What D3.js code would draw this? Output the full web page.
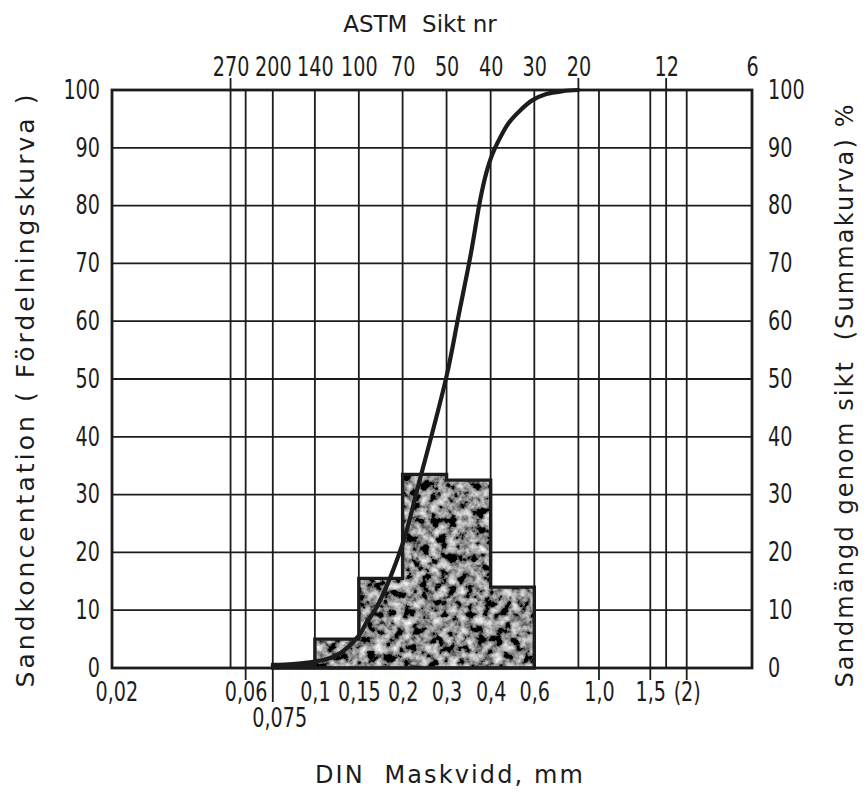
<!DOCTYPE html>
<html>
<head>
<meta charset="utf-8">
<script src="https://cdn.jsdelivr.net/npm/d3@7"></script>
<style>
  body { margin: 0; background: #fff; }
  svg text { fill: #1c1c1c; }
</style>
</head>
<body>
<svg id="chart"></svg>
<script>
// ASTM sieve numbers (top axis) and their openings in mm
const astmNumbers = ["270", "200", "140", "100", "70", "50", "40", "30", "20", "12", "6"];
const astmSizes = [0.053, 0.075, 0.106, 0.15, 0.212, 0.3, 0.425, 0.6, 0.85, 1.7, 3.35];

// DIN mesh widths (bottom axis)
const dinSizes = [0.02, 0.06, 0.075, 0.106, 0.15, 0.212, 0.3, 0.425, 0.6, 1.0, 1.5, 2.0];
const dinLabels = ["0,02", "0,06", "0,075", "0,1", "0,15", "0,2", "0,3", "0,4", "0,6", "1,0", "1,5", "(2)"];

const percentTicks = [0, 10, 20, 30, 40, 50, 60, 70, 80, 90, 100];

// Fördelningskurva: class limits (mm) and share of sand in each class (%)
const binEdges = [0.075, 0.106, 0.15, 0.212, 0.3, 0.425, 0.6];
const binShares = [0.6, 5, 15.5, 33.5, 32.5, 14];

// Summakurva: passing through sieve (%)
const cumSizes = [0.075, 0.106, 0.126, 0.15, 0.159, 0.173, 0.212, 0.24, 0.3, 0.33, 0.363, 0.388, 0.40, 0.414, 0.43, 0.45, 0.49, 0.54, 0.59, 0.66, 0.75, 0.85];
const cumPassing = [0.4, 1.1, 2.2, 5.6, 7.8, 10.6, 21.5, 31.6, 50.5, 61, 71.5, 80, 83.3, 86.3, 88.8, 91, 94.3, 96.6, 98.2, 99.3, 99.8, 100];

const width = 868, height = 796;
const margin = {top: 90, right: 116, bottom: 128, left: 112};
const pw = width - margin.left - margin.right;
const ph = height - margin.top - margin.bottom;

const numFont = "'DejaVu Sans Condensed', 'DejaVu Sans', sans-serif";
const textFont = "'DejaVu Sans', sans-serif";
const ink = "#1c1c1c";
const squeeze = 0.82; // the stencil digits are narrower than any installed font

const svg = d3.select("#chart").attr("width", width).attr("height", height);

// grainy grey fill for the histogram, like the printed screen
const defs = svg.append("defs");
const grain = defs.append("filter").attr("id", "grain")
    .attr("x", 0).attr("y", 0).attr("width", 1).attr("height", 1);
grain.append("feTurbulence").attr("type", "fractalNoise")
    .attr("baseFrequency", 0.11).attr("numOctaves", 4).attr("seed", 7).attr("result", "noise");
grain.append("feColorMatrix").attr("in", "noise").attr("type", "matrix")
    .attr("values", "1.9 0 0 0 -0.68  1.9 0 0 0 -0.68  1.9 0 0 0 -0.68  0 0 0 0 1")
    .attr("result", "grey");
grain.append("feComposite").attr("in", "grey").attr("in2", "SourceGraphic").attr("operator", "in");

const g = svg.append("g").attr("transform", `translate(${margin.left},${margin.top})`);

// hand drawn sheet: the part left of the 140 sieve is a bit narrower than a true log scale
const x = d3.scaleLog().domain([0.02, 0.106, 3.35]).range([0, pw * 0.317, pw]);
const y = d3.scaleLinear().domain([0, 100]).range([ph, 0]);

// grid
const vLines = Array.from(new Set(astmSizes.concat(dinSizes)))
    .filter(d => d > 0.02 && d < 3.35);
g.append("g").selectAll("line").data(vLines).join("line")
    .attr("x1", d => x(d)).attr("x2", d => x(d))
    .attr("y1", 0).attr("y2", ph)
    .attr("stroke", ink).attr("stroke-width", 1.8);
g.append("g").selectAll("line").data(percentTicks).join("line")
    .attr("x1", 0).attr("x2", pw)
    .attr("y1", d => y(d)).attr("y2", d => y(d))
    .attr("stroke", ink).attr("stroke-width", 1.8);

// histogram
const bins = binShares.map((v, i) => ({x0: binEdges[i], v: v}));
bins.push({x0: binEdges[binEdges.length - 1], v: binShares[binShares.length - 1]});
const area = d3.area().curve(d3.curveStepAfter)
    .x(d => x(d.x0)).y0(ph).y1(d => y(d.v));
g.append("path").datum(bins).attr("d", area)
    .attr("fill", "#888").attr("filter", "url(#grain)");
g.append("path").datum(bins).attr("d", area)
    .attr("fill", "none").attr("stroke", ink).attr("stroke-width", 3.4)
    .attr("stroke-linejoin", "miter");

// cumulative curve
const cum = cumSizes.map((s, i) => [s, cumPassing[i]]);
g.append("path").datum(cum)
    .attr("d", d3.line().curve(d3.curveCatmullRom.alpha(0.5)).x(d => x(d[0])).y(d => y(d[1])))
    .attr("fill", "none").attr("stroke", ink).attr("stroke-width", 4.2)
    .attr("stroke-linecap", "round");

// frame
g.append("rect").attr("width", pw).attr("height", ph)
    .attr("fill", "none").attr("stroke", ink).attr("stroke-width", 2.8);

// axes
function styleAxis(sel) {
    sel.select(".domain").remove();
    sel.selectAll("text").attr("font-family", numFont).attr("font-size", 26).attr("fill", ink);
}
// narrow the digits around their anchor point
function narrow(sel) {
    sel.selectAll(".tick text").each(function() {
        const t = d3.select(this);
        const tx = +t.attr("x") || 0;
        t.attr("x", tx / squeeze).attr("transform", `scale(${squeeze},1)`);
    });
}

g.append("g")
    .call(d3.axisLeft(y).tickValues(percentTicks).tickSize(0).tickPadding(12))
    .call(styleAxis).call(narrow);
g.append("g").attr("transform", `translate(${pw},0)`)
    .call(d3.axisRight(y).tickValues(percentTicks).tickSize(0).tickPadding(16))
    .call(styleAxis).call(narrow);

g.append("g")
    .call(d3.axisTop(x).tickValues(astmSizes).tickFormat((d, i) => astmNumbers[i]).tickSize(0).tickPadding(14))
    .call(styleAxis).call(narrow);

const bottom = g.append("g").attr("transform", `translate(0,${ph})`)
    .call(d3.axisBottom(x).tickValues(dinSizes).tickFormat((d, i) => dinLabels[i]).tickSize(0).tickPadding(15))
    .call(styleAxis);
bottom.selectAll(".tick").filter(d => d === 0.075).select("text").attr("dy", "1.71em").attr("dx", "0.3em");
bottom.selectAll(".tick").filter(d => d === 0.02).select("text").attr("dx", "0.2em");
bottom.call(narrow);

// small tick marks outside the frame
const topMarks = [0.053, 0.85, 1.7];
g.append("g").selectAll("line").data(topMarks).join("line")
    .attr("x1", d => x(d)).attr("x2", d => x(d))
    .attr("y1", 0).attr("y2", -12)
    .attr("stroke", ink).attr("stroke-width", 1.8);
const bottomMarks = [0.06, 0.075, 1.0, 1.5, 2.0];
g.append("g").selectAll("line").data(bottomMarks).join("line")
    .attr("x1", d => x(d)).attr("x2", d => x(d))
    .attr("y1", ph).attr("y2", d => ph + (d === 0.075 ? 34 : 12))
    .attr("stroke", ink).attr("stroke-width", 1.8);

// titles
svg.append("text").attr("x", 420).attr("y", 32)
    .attr("text-anchor", "middle").attr("font-family", textFont).attr("font-size", 23)
    .text("ASTM\u00a0\u00a0Sikt nr");
svg.append("text").attr("x", 449).attr("y", 783)
    .attr("text-anchor", "middle").attr("font-family", textFont).attr("font-size", 24)
    .attr("textLength", 268).attr("lengthAdjust", "spacing")
    .text("DIN\u00a0\u00a0Maskvidd, mm");
svg.append("text")
    .attr("transform", "translate(34,391) rotate(-90)")
    .attr("text-anchor", "middle").attr("font-family", textFont).attr("font-size", 25)
    .attr("textLength", 593).attr("lengthAdjust", "spacing")
    .text("Sandkoncentation (\u00a0Fördelningskurva\u00a0)");
svg.append("text")
    .attr("transform", "translate(853,396) rotate(-90)")
    .attr("text-anchor", "middle").attr("font-family", textFont).attr("font-size", 24)
    .attr("textLength", 583).attr("lengthAdjust", "spacing")
    .text("Sandmängd genom sikt\u00a0\u00a0(Summakurva) %");
</script>
</body>
</html>
